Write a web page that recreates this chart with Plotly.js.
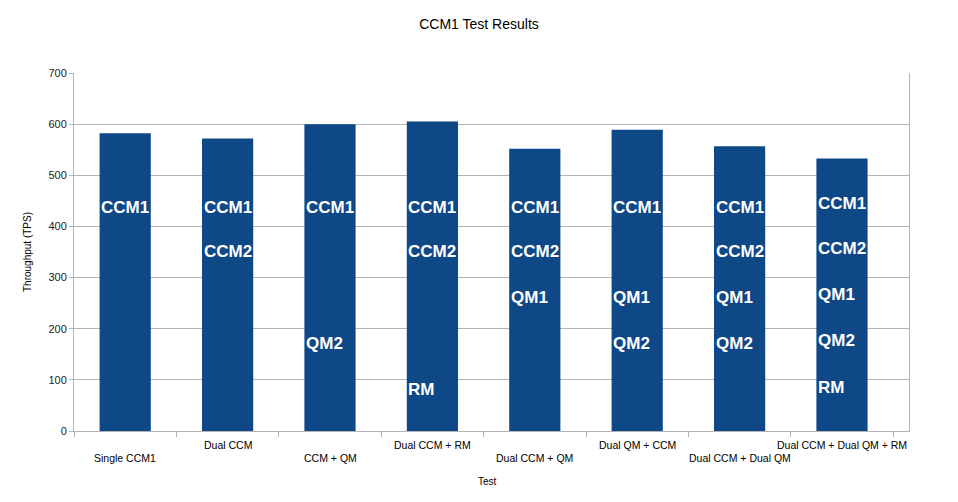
<!DOCTYPE html>
<html>
<head>
<meta charset="utf-8">
<script src="https://cdn.plot.ly/plotly-3.0.1.min.js"></script>
<style>html,body{margin:0;padding:0;background:#fff;}#chart{width:958px;height:502px;}</style>
</head>
<body>
<div id="chart"></div>
<script>
const categories = ["Single CCM1", "Dual CCM", "CCM + QM", "Dual CCM + RM", "Dual CCM + QM", "Dual QM + CCM", "Dual CCM + Dual QM", "Dual CCM + Dual QM + RM"];
const throughput = [582, 572, 600, 605, 552, 589, 557, 533];
const barLabels = [
  ["CCM1"],
  ["CCM1", "CCM2"],
  ["CCM1", "QM2"],
  ["CCM1", "CCM2", "RM"],
  ["CCM1", "CCM2", "QM1"],
  ["CCM1", "QM1", "QM2"],
  ["CCM1", "CCM2", "QM1", "QM2"],
  ["CCM1", "CCM2", "QM1", "QM2", "RM"]
];
const labelLevels = {CCM1: 437, CCM2: 351, QM1: 262, QM2: 171, RM: 81};
const lastBarLevels = {CCM1: 444, CCM2: 357, QM1: 267, QM2: 177, RM: 85};
const yTicks = [0, 100, 200, 300, 400, 500, 600, 700];
const xTitle = 'Test';

const annotations = [];
barLabels.forEach((labs, i) => {
  const levels = (i === barLabels.length - 1) ? lastBarLevels : labelLevels;
  labs.forEach(l => {
    annotations.push({
      x: categories[i], y: levels[l], xref: 'x', yref: 'y',
      text: '<b>' + l + '</b>', showarrow: false,
      xanchor: 'left', yanchor: 'middle', xshift: -26,
      font: {family: 'Liberation Sans, Arial, sans-serif', size: 17, color: '#ffffff'}
    });
  });
});
categories.forEach((c, i) => {
  annotations.push({
    x: c, y: 0, xref: 'x', yref: 'paper', text: c, showarrow: false,
    xanchor: 'center', yanchor: 'middle', yshift: (i % 2 === 0) ? -26.5 : -13.5,
    font: {family: 'Liberation Sans, Arial, sans-serif', size: 10.5, color: '#000'}
  });
});
annotations.push({
  x: 0.5, y: 0, xref: 'paper', yref: 'paper', text: xTitle, showarrow: false,
  xanchor: 'center', yanchor: 'middle', yshift: -50, xshift: -4,
  font: {family: 'Liberation Sans, Arial, sans-serif', size: 10, color: '#000'}
});

const trace = {
  type: 'bar', x: categories, y: throughput,
  marker: {color: '#0f4886', line: {width: 0}},
  hoverinfo: 'x+y'
};

const layout = {
  width: 958, height: 502,
  margin: {l: 74, r: 49, t: 73, b: 70.5},
  paper_bgcolor: '#fff', plot_bgcolor: '#fff',
  bargap: 0.5,
  showlegend: false,
  font: {family: 'Liberation Sans, Arial, sans-serif', color: '#000'},
  title: {text: 'CCM1 Test Results', x: 0.5, xref: 'container', y: 0.952, yref: 'container', yanchor: 'middle',
          font: {size: 14, color: '#000'}},
  xaxis: {
    type: 'category', showticklabels: false,
    tickson: 'boundaries', ticks: 'outside', ticklen: 5, tickcolor: '#b3b3b3',
    showline: true, linecolor: '#b3b3b3', linewidth: 1, showgrid: false, zeroline: false,
    automargin: false
  },
  yaxis: {
    range: [0, 700], tickvals: yTicks, ticktext: yTicks.map(String),
    ticks: 'outside', ticklen: 4, tickcolor: '#b3b3b3',
    showline: true, mirror: true, linecolor: '#b3b3b3', linewidth: 1,
    showgrid: true, gridcolor: '#b3b3b3', gridwidth: 1, zeroline: false,
    tickfont: {size: 11, color: '#222'},
    title: {text: 'Throughput (TPS)', font: {size: 10, color: '#000'}, standoff: 14},
    automargin: false
  },
  annotations: annotations
};

Plotly.newPlot('chart', [trace], layout, {displayModeBar: false, staticPlot: true});
</script>
</body>
</html>
